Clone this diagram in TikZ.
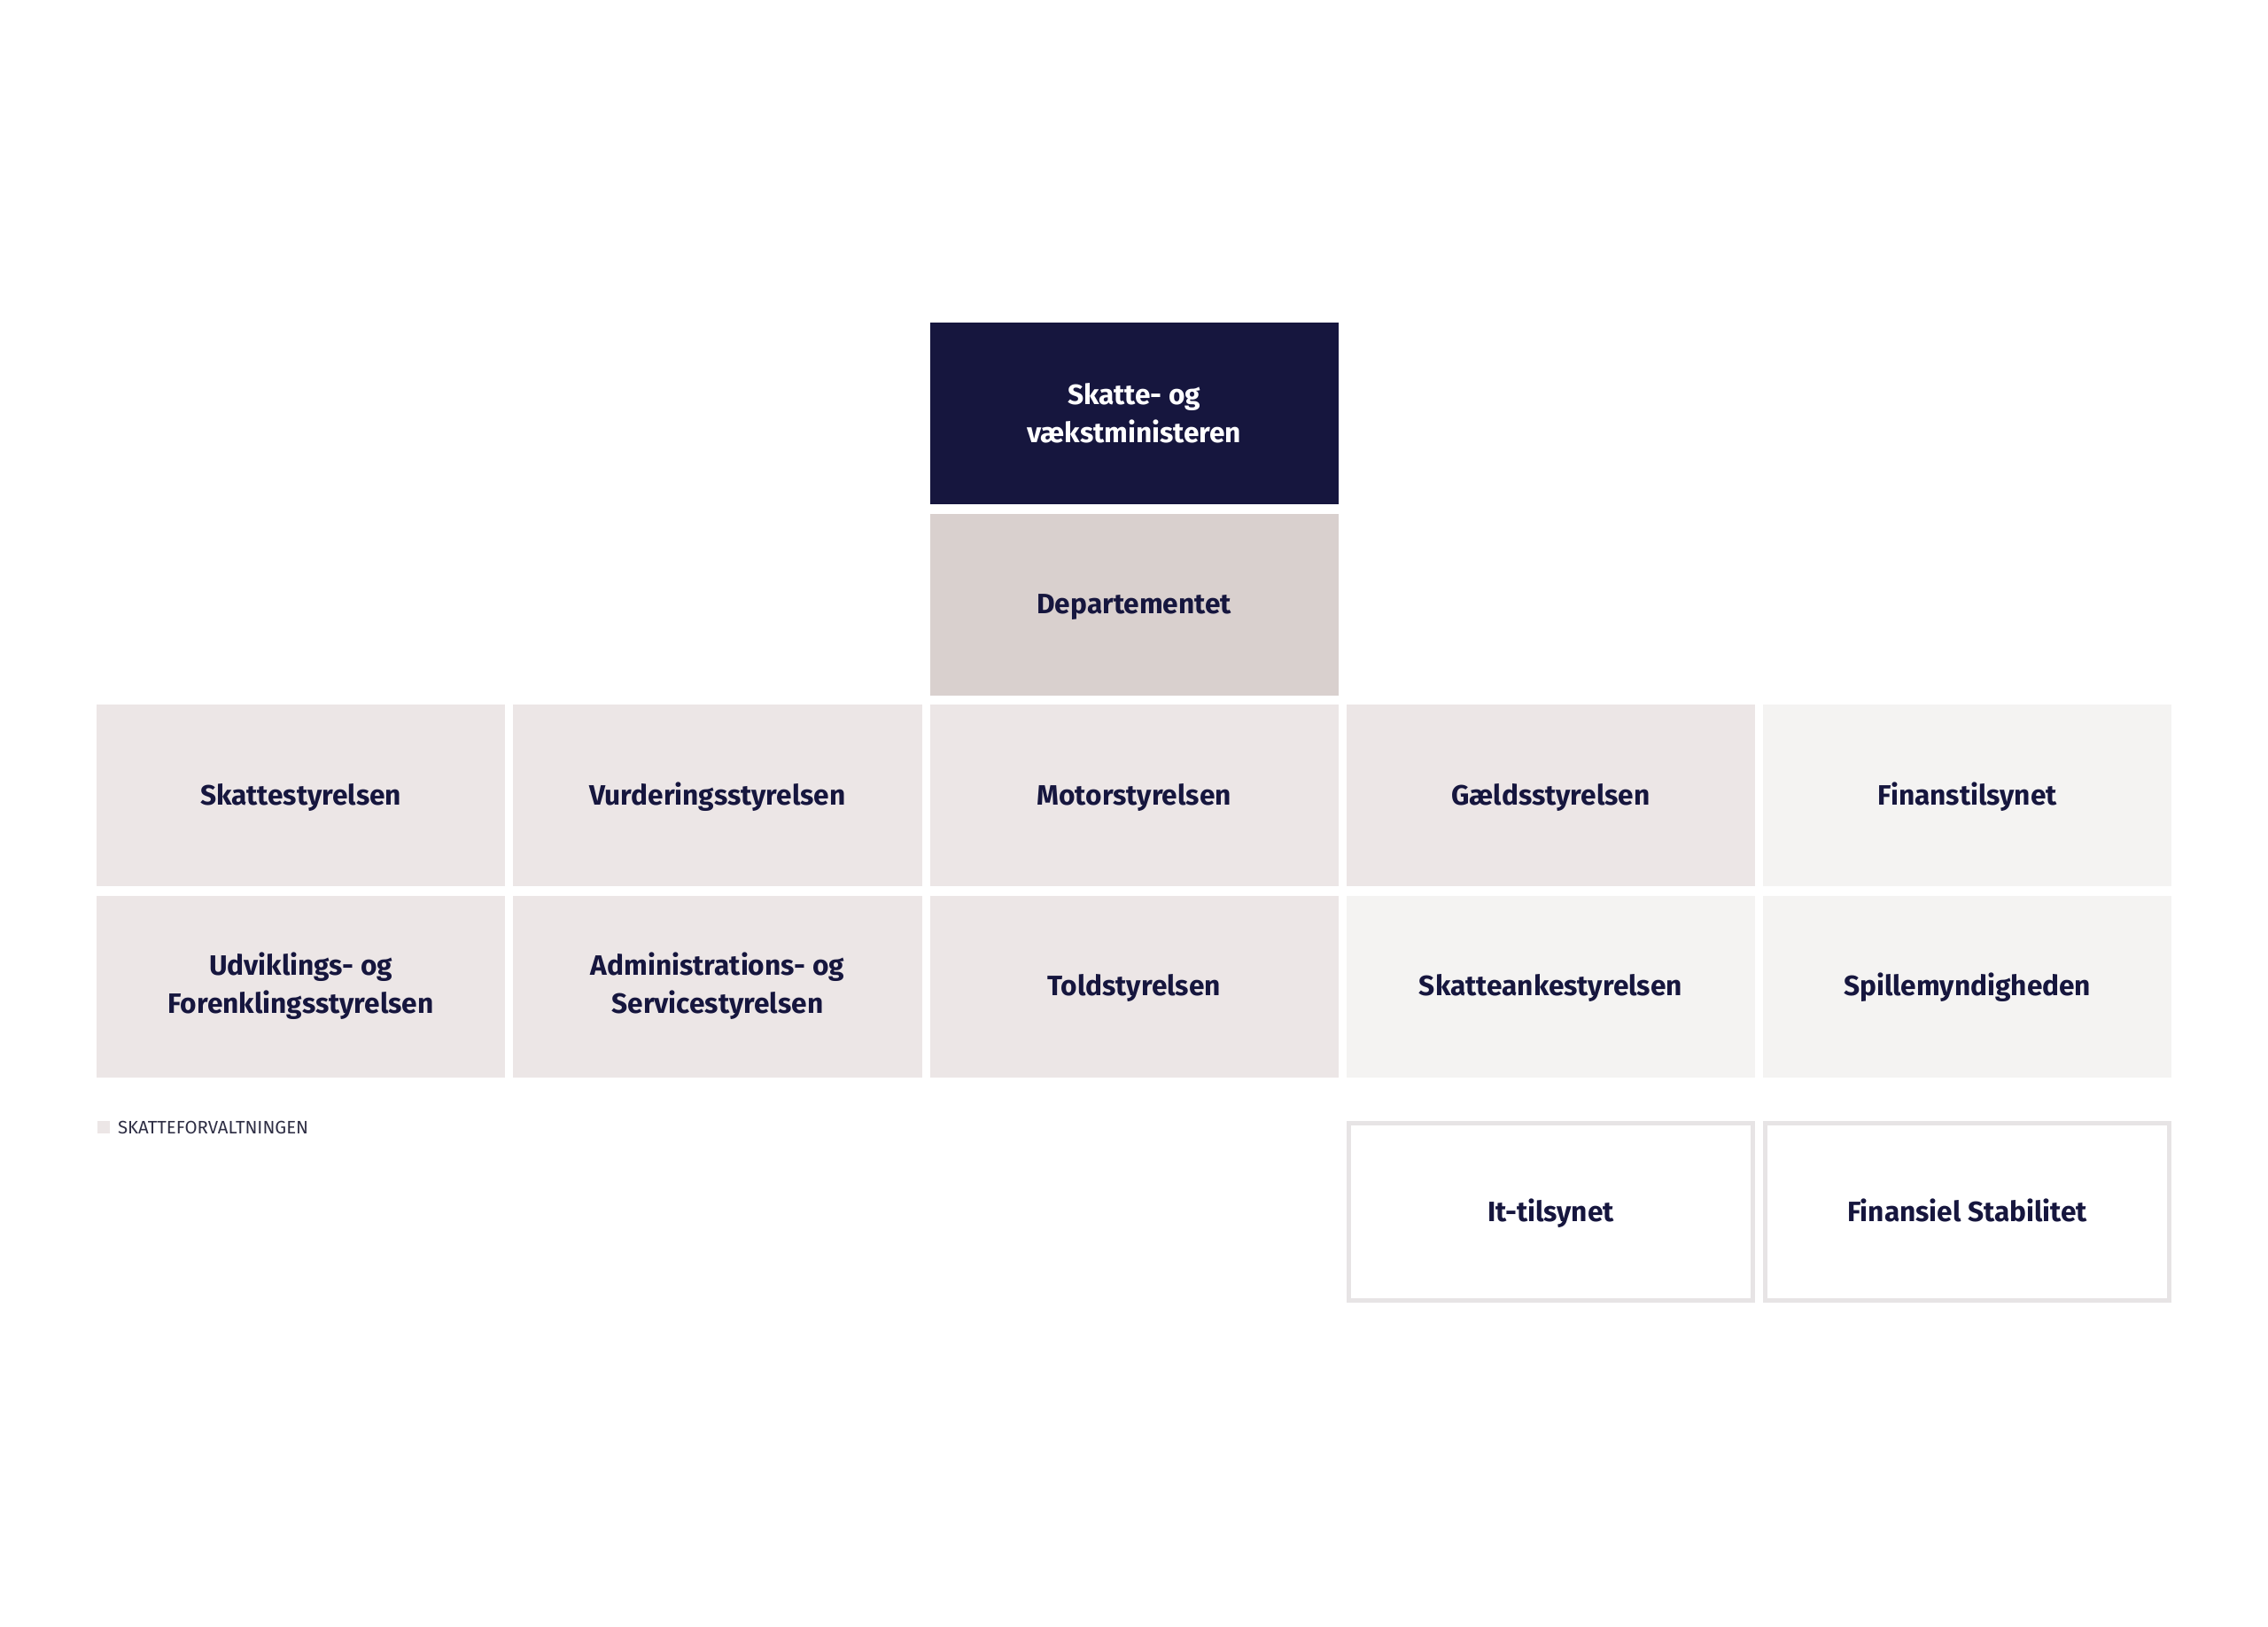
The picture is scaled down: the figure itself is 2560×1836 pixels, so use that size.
\documentclass[tikz,border=0pt]{standalone}
\usepackage{fontspec}
\setmainfont{Fira Sans}
\usetikzlibrary{positioning}
\definecolor{navy}{HTML}{16163E}
\definecolor{depfill}{HTML}{D9D0CE}
\definecolor{skffill}{HTML}{ECE6E6}
\definecolor{otherfill}{HTML}{F4F3F2}
\definecolor{openline}{HTML}{E7E4E5}
\definecolor{keytextcol}{HTML}{2E2E44}
\tikzset{
  unit/.style={rectangle, anchor=north west, inner sep=0pt, outer sep=0pt,
    minimum width=4.61cm, minimum height=2.05cm, align=center, text=navy,
    font=\bfseries\fontsize{9}{12.2}\selectfont},
  oneline/.style={text height=6.2pt, text depth=0pt},
  skfunit/.style={unit, fill=skffill},
  otherunit/.style={unit, fill=otherfill},
  openunit/.style={unit, draw=openline, line width=0.05cm,
    minimum width=4.56cm, minimum height=2.00cm},
  keybox/.style={rectangle, anchor=north west, inner sep=0pt, outer sep=0pt,
    minimum size=0.14cm, fill=skffill},
  keylabel/.style={inner sep=0pt, outer sep=0pt, anchor=west, text=keytextcol,
    font=\fontsize{5.8}{7}\selectfont}
}
\begin{document}
\begin{tikzpicture}[x=0.01cm, y=-0.01cm]
  \useasboundingbox (0,0) rectangle (2560,1836);
  \path
    (1049.5,364) node[unit, fill=navy, text=white] (minister) {Skatte- og\\vækstministeren}
    (1049.5,579.5) node[unit, oneline, fill=depfill] (dep) {Departementet};
  % row 1
  \path
    (109,795) node[skfunit, oneline] (sktst) {Skattestyrelsen}
    (579.25,795) node[skfunit, oneline] (vurdst) {Vurderingsstyrelsen}
    (1049.5,795) node[skfunit, oneline] (motorst) {Motorstyrelsen}
    (1519.75,795) node[skfunit, oneline] (gaeldst) {Gældsstyrelsen}
    (1990,795) node[otherunit, oneline] (ftnet) {Finanstilsynet};
  % row 2
  \path
    (109,1010.5) node[skfunit] (ufst) {Udviklings- og\\Forenklingsstyrelsen}
    (579.25,1010.5) node[skfunit] (adst) {Administrations- og\\Servicestyrelsen}
    (1049.5,1010.5) node[skfunit, oneline] (toldst) {Toldstyrelsen}
    (1519.75,1010.5) node[otherunit, oneline] (sankst) {Skatteankestyrelsen}
    (1990,1010.5) node[otherunit, oneline] (spilm) {Spillemyndigheden};
  % row 3
  \path
    (1522.25,1267.5) node[openunit, oneline] (ittil) {It-tilsynet}
    (1992.5,1267.5) node[openunit, oneline] (finstab) {Finansiel Stabilitet};
  % key
  \node[keybox] (key) at (110,1265) {};
  \node[keylabel, right=0.09cm of key] (keytext) {SKATTEFORVALTNINGEN};
\end{tikzpicture}
\end{document}
